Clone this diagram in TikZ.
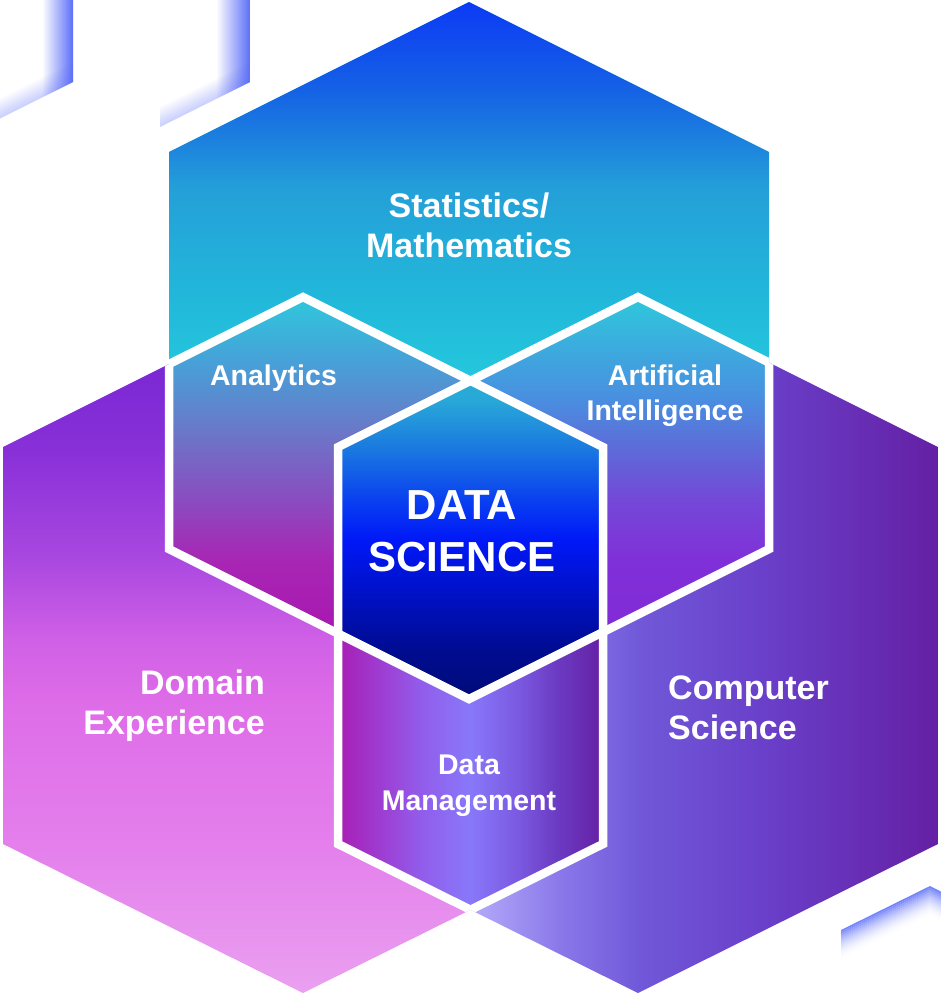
\documentclass[tikz,border=0pt]{standalone}
\usepackage{fontspec}
\setmainfont{Liberation Sans}
% deco
\definecolor{decoBlue}{RGB}{92,110,248}
% stats
\definecolor{cS0}{RGB}{12,58,245}
\definecolor{cS1}{RGB}{21,98,229}
\definecolor{cS2}{RGB}{36,160,216}
\definecolor{cS3}{RGB}{34,184,218}
\definecolor{cS4}{RGB}{36,200,221}
% domain
\definecolor{cD0}{RGB}{118,38,212}
\definecolor{cD1}{RGB}{122,40,212}
\definecolor{cD2}{RGB}{136,48,216}
\definecolor{cD3}{RGB}{170,72,224}
\definecolor{cD4}{RGB}{208,96,230}
\definecolor{cD5}{RGB}{222,108,232}
\definecolor{cD6}{RGB}{228,128,236}
\definecolor{cD7}{RGB}{234,160,240}
% computer science
\definecolor{cC0}{RGB}{196,186,252}
\definecolor{cC1}{RGB}{176,166,248}
\definecolor{cC2}{RGB}{138,120,234}
\definecolor{cC3}{RGB}{112,88,216}
\definecolor{cC4}{RGB}{106,64,202}
\definecolor{cC5}{RGB}{100,32,164}
% analytics
\definecolor{cA0}{RGB}{46,200,220}
\definecolor{cA1}{RGB}{70,162,216}
\definecolor{cA2}{RGB}{106,120,200}
\definecolor{cA3}{RGB}{138,76,192}
\definecolor{cA4}{RGB}{168,38,180}
\definecolor{cA5}{RGB}{168,22,176}
% AI
\definecolor{cI0}{RGB}{46,200,220}
\definecolor{cI1}{RGB}{74,142,224}
\definecolor{cI2}{RGB}{94,106,216}
\definecolor{cI3}{RGB}{116,72,216}
\definecolor{cI4}{RGB}{128,48,216}
\definecolor{cI5}{RGB}{130,42,214}
% data management
\definecolor{cM0}{RGB}{168,30,180}
\definecolor{cM1}{RGB}{158,60,210}
\definecolor{cM2}{RGB}{146,92,234}
\definecolor{cM3}{RGB}{136,120,250}
\definecolor{cM4}{RGB}{122,88,224}
\definecolor{cM5}{RGB}{108,60,196}
\definecolor{cM6}{RGB}{100,32,164}
% data science
\definecolor{cX0}{RGB}{40,172,214}
\definecolor{cX1}{RGB}{40,168,216}
\definecolor{cX2}{RGB}{26,120,224}
\definecolor{cX3}{RGB}{10,64,240}
\definecolor{cX4}{RGB}{0,24,248}
\definecolor{cX5}{RGB}{0,16,192}
\definecolor{cX6}{RGB}{0,12,144}
\definecolor{cX7}{RGB}{0,12,120}

\pgfdeclareverticalshading{statsShade}{100bp}{color(0bp)=(cS4); color(25bp)=(cS4); color(35.7bp)=(cS3); color(50.2bp)=(cS2); color(63.4bp)=(cS1); color(75bp)=(cS0); color(100bp)=(cS0)}
\pgfdeclareverticalshading{domShade}{100bp}{color(0bp)=(cD7); color(25bp)=(cD7); color(35.3bp)=(cD6); color(46bp)=(cD5); color(50.4bp)=(cD4); color(56.1bp)=(cD3); color(64bp)=(cD2); color(70.3bp)=(cD1); color(75bp)=(cD0); color(100bp)=(cD0)}
\pgfdeclarehorizontalshading{csShade}{100bp}{color(0bp)=(cC0); color(25bp)=(cC0); color(36.8bp)=(cC1); color(43.5bp)=(cC2); color(50.2bp)=(cC3); color(60.2bp)=(cC4); color(75bp)=(cC5); color(100bp)=(cC5)}
\pgfdeclareverticalshading{anShade}{100bp}{color(0bp)=(cA5); color(25bp)=(cA5); color(36.7bp)=(cA4); color(45.4bp)=(cA3); color(55.6bp)=(cA2); color(65.8bp)=(cA1); color(75bp)=(cA0); color(100bp)=(cA0)}
\pgfdeclareverticalshading{aiShade}{100bp}{color(0bp)=(cI5); color(25bp)=(cI5); color(36.7bp)=(cI4); color(45.4bp)=(cI3); color(52.7bp)=(cI2); color(60bp)=(cI1); color(75bp)=(cI0); color(100bp)=(cI0)}
\pgfdeclarehorizontalshading{dmShade}{100bp}{color(0bp)=(cM0); color(25bp)=(cM0); color(32.9bp)=(cM1); color(40.5bp)=(cM2); color(49.9bp)=(cM3); color(59.3bp)=(cM4); color(65.9bp)=(cM5); color(75bp)=(cM6); color(100bp)=(cM6)}
\pgfdeclareverticalshading{dsShade}{100bp}{color(0bp)=(cX7); color(25bp)=(cX7); color(32.7bp)=(cX6); color(40.6bp)=(cX5); color(50bp)=(cX4); color(56.3bp)=(cX3); color(64.2bp)=(cX2); color(72bp)=(cX1); color(75bp)=(cX0); color(100bp)=(cX0)}

\tikzset{
  hexT/.style={insert path={(469,2) -- (769,152) -- (769,549) -- (469,699) -- (169,549) -- (169,152) -- cycle}},
  hexL/.style={insert path={(303,297) -- (603,447) -- (603,844) -- (303,993) -- (3,844) -- (3,447) -- cycle}},
  hexR/.style={insert path={(638,297) -- (938,447) -- (938,844) -- (638,993) -- (338,844) -- (338,447) -- cycle}},
  wstroke/.style={draw=white, line width=8.5pt, line join=miter},
  lbl/.style={text=white, inner sep=0pt},
}

\begin{document}
\begin{tikzpicture}[x=1pt, y=-1pt]
\useasboundingbox (0,0) rectangle (941,994);

% ---- decorative fragments ----
\begin{scope}
  \clip (0,0) -- (73,0) -- (73,82) -- (0,118.5) -- cycle;
  \shade[left color=white, middle color=decoBlue!30, right color=decoBlue] (42,0) rectangle (73,119);
  \foreach \k in {0,...,9} {
    \pgfmathsetmacro\op{0.3*(1-\k/10)}
    \fill[decoBlue, opacity=\op] (0,{118.5-2*\k}) -- (73,{82-2*\k}) -- (73,{80-2*\k}) -- (0,{116.5-2*\k}) -- cycle;
  }
\end{scope}
\begin{scope}
  \clip (150,0) -- (250,0) -- (250,82) -- (160,127) -- (150,127) -- cycle;
  \shade[left color=white, middle color=decoBlue!30, right color=decoBlue] (216,0) rectangle (250,127);
  \foreach \k in {0,...,9} {
    \pgfmathsetmacro\op{0.3*(1-\k/10)}
    \fill[decoBlue, opacity=\op] (160,{127-2*\k}) -- (250,{82-2*\k}) -- (250,{80-2*\k}) -- (160,{125-2*\k}) -- cycle;
  }
\end{scope}
\begin{scope}
  \clip (841,930) -- (930,886) -- (941,891.5) -- (941,994) -- (841,994) -- cycle;
  \foreach \k in {0,...,14} {
    \pgfmathsetmacro\op{0.85*(1-\k/15)*(1-\k/15)}
    \fill[decoBlue, opacity=\op] (840,{930+2*\k}) -- (930,{886+2*\k}) -- (942,{892+2*\k}) -- (942,{894+2*\k}) -- (930,{888+2*\k}) -- (840,{932+2*\k}) -- cycle;
  }
\end{scope}

% ---- big hexagons ----
\begin{scope}
  \clip[hexL];
  \shade[shading=domShade] (3,297) rectangle (603,993);
\end{scope}
\begin{scope}
  \clip[hexR];
  \shade[shading=csShade] (338,297) rectangle (938,993);
\end{scope}
\begin{scope}
  \clip[hexT];
  \fill[cS4] (169,2) rectangle (769,699);
  \shade[shading=statsShade] (169,2) rectangle (769,381);
\end{scope}

% ---- overlaps ----
\begin{scope}
  \clip[hexT]; \clip[hexL];
  \shade[shading=anShade] (169,297) rectangle (603,640);
\end{scope}
\begin{scope}
  \clip[hexT]; \clip[hexR];
  \shade[shading=aiShade] (338,297) rectangle (769,640);
\end{scope}
\begin{scope}
  \clip[hexL]; \clip[hexR];
  \shade[shading=dmShade] (338,447) rectangle (603,911);
\end{scope}
\begin{scope}
  \clip[hexT]; \clip[hexL]; \clip[hexR];
  \shade[shading=dsShade] (338,381) rectangle (603,699);
\end{scope}

% ---- white separators ----
\begin{scope}
  \clip[hexL, hexR];
  \path[wstroke, hexT];
\end{scope}
\begin{scope}
  \clip[hexT, hexR];
  \path[wstroke, hexL];
\end{scope}
\begin{scope}
  \clip[hexT, hexL];
  \path[wstroke, hexR];
\end{scope}

% ---- labels ----
\node[lbl, align=center, font={\fontsize{34}{40}\selectfont\bfseries}] (stats) at (469,225.5) {Statistics/\\Mathematics};
\node[lbl, align=center, font={\fontsize{42}{52}\selectfont\bfseries}] (ds) at (462,531.5) {DATA\\SCIENCE};
\node[lbl, align=right, anchor=east, font={\fontsize{34}{40}\selectfont\bfseries}] (domain) at (265,706) {Domain\\Experience};
\node[lbl, align=left, anchor=west, font={\fontsize{34}{40}\selectfont\bfseries}] (cs) at (668,707.5) {Computer\\Science};
\node[lbl, anchor=base, font={\fontsize{28.5}{34}\selectfont\bfseries}] (an) at (273.5,385) {Analytics};
\node[lbl, align=center, font={\fontsize{28.5}{35.5}\selectfont\bfseries}] (ai) at (665,395.8) {Artificial\\Intelligence};
\node[lbl, align=center, font={\fontsize{28.5}{36}\selectfont\bfseries}] (dm) at (469,785.5) {Data\\Management};
\end{tikzpicture}
\end{document}
